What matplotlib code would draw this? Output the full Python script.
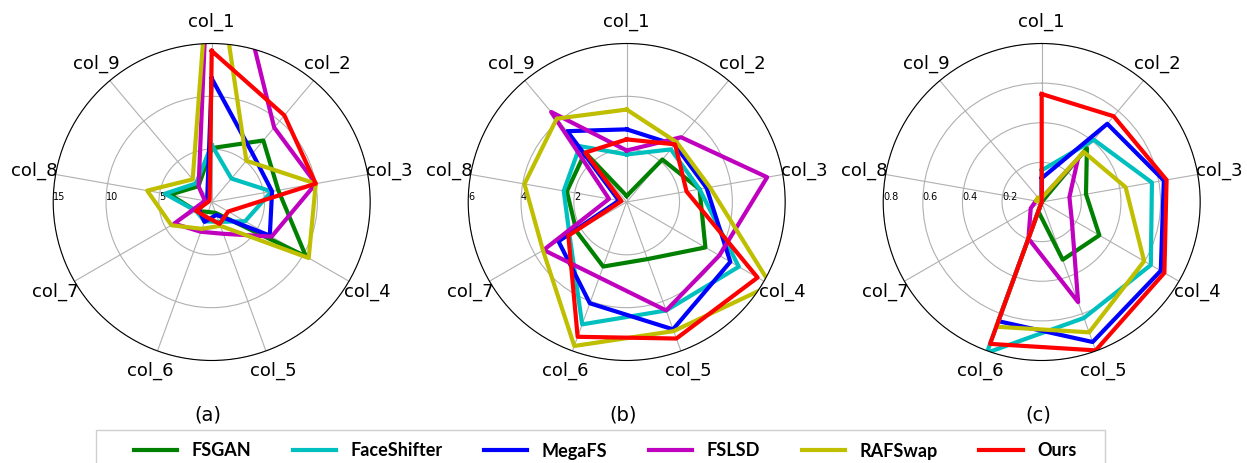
import numpy as np
import matplotlib
matplotlib.use("Agg")
import matplotlib.pyplot as plt
from matplotlib.patches import Rectangle

# ==============================
# DATOS
# ==============================

columnas = ["col_1", "col_2", "col_3", "col_4", "col_5", "col_6", "col_7", "col_8", "col_9"]
metodos = ["FSGAN", "FaceShifter", "MegaFS", "FSLSD", "RAFSwap", "Ours"]
colores = ["g", "c", "b", "m", "y", "r"]
paneles = ["(a)", "(b)", "(c)"]

# panel (a)
a_fsgan = [5.1, 7.6, 6.4, 10.3, 1.1, 1.0, 1.7, 4.0, 1.95]
a_faceshifter = [5.4, 2.9, 5.75, 3.65, 2.0, 1.95, 1.7, 4.5, 2.3]
a_megafs = [11.7, 6.0, 5.8, 6.35, 1.3, 2.0, 1.4, 0.6, 0.65]
a_fslsd = [31.0, 9.2, 10.0, 6.55, 3.2, 3.0, 4.1, 0.65, 1.93]
a_rafswap = [26.0, 5.1, 10.0, 10.6, 2.4, 2.7, 4.4, 6.2, 2.8]
a_ours = [14.3, 10.7, 10.0, 1.8, 2.2, 1.5, 1.7, 0.3, 0.3]

# panel (b)
b_fsgan = [0.23, 2.1, 2.8, 3.44, 2.3, 2.6, 2.2, 2.3, 2.45]
b_faceshifter = [1.8, 2.6, 2.8, 4.9, 4.37, 4.93, 2.5, 2.42, 2.76]
b_megafs = [2.75, 2.83, 3.07, 4.53, 5.13, 4.08, 2.98, 0.3, 3.5]
b_fslsd = [1.95, 3.2, 5.4, 4.05, 4.37, 3.04, 3.63, 0.68, 4.45]
b_rafswap = [3.5, 2.95, 3.2, 6.3, 5.2, 5.8, 3.66, 3.93, 4.12]
b_ours = [2.37, 2.85, 2.3, 5.72, 5.5, 5.43, 2.55, 0.2, 2.44]

# panel (c)
c_fsgan = [0.0, 0.355, 0.227, 0.336, 0.31, 0.05, 0.0, 0.0, 0.0]
c_faceshifter = [0.16, 0.41, 0.565, 0.636, 0.623, 0.81, 0.0, 0.0, 0.0]
c_megafs = [0.12, 0.515, 0.626, 0.694, 0.752, 0.64, 0.0, 0.0, 0.0]
c_fslsd = [0.02, 0.285, 0.142, 0.175, 0.538, 0.196, 0.064, 0.03, 0.02]
c_rafswap = [0.02, 0.33, 0.43, 0.597, 0.70, 0.67, 0.0, 0.03, 0.03]
c_ours = [0.545, 0.565, 0.64, 0.715, 0.797, 0.762, 0.0, 0.0, 0.0]

datos = [
    [a_fsgan, a_faceshifter, a_megafs, a_fslsd, a_rafswap, a_ours],
    [b_fsgan, b_faceshifter, b_megafs, b_fslsd, b_rafswap, b_ours],
    [c_fsgan, c_faceshifter, c_megafs, c_fslsd, c_rafswap, c_ours],
]
rmax = [15, 6, 0.8]
rticks = [[5, 10, 15], [2, 4, 6], [0.2, 0.4, 0.6, 0.8]]

# ==============================
# GRAFICA
# ==============================

W, H = 1247, 463
fig = plt.figure(figsize=(W / 100, H / 100), dpi=100)

centros_x = [211.7, 626.7, 1041.7]
cy = 202
R = 158.5

angulos = np.linspace(0, 2 * np.pi, len(columnas), endpoint=False)
angulos_c = np.concatenate([angulos, angulos[:1]])

handles = []
for i, serie in enumerate(datos):
    ax = fig.add_axes([(centros_x[i] - R) / W, (H - cy - R) / H, 2 * R / W, 2 * R / H],
                      projection="polar")
    ax.set_theta_offset(np.pi / 2)
    ax.set_theta_direction(-1)

    for vals, nombre, col in zip(serie, metodos, colores):
        v = np.concatenate([vals, vals[:1]])
        (ln,) = ax.plot(angulos_c, v, color=col, linewidth=3, label=nombre)
        if i == 0:
            handles.append(ln)

    ax.set_ylim(0, rmax[i])
    ax.set_yticks(rticks[i])
    ax.set_yticklabels([str(t) for t in rticks[i]], fontsize=7)
    ax.set_rlabel_position(270)
    ax.set_xticks(angulos)
    ax.set_xticklabels(columnas, fontsize=13)
    ax.tick_params(axis="x", pad=5)
    ax.grid(True, color="#b0b0b0", linewidth=0.8)

    fig.text(centros_x[i] / W - 0.003, 1 - 415 / H, paneles[i], ha="center", va="center",
             fontsize=14)

# leyenda con marco gris que se corta abajo
fig.add_artist(Rectangle((96 / W, -0.2), (1105 - 96) / W, 0.2 + 1 - 430 / H,
                         transform=fig.transFigure, fill=False,
                         edgecolor="#cfcfcf", linewidth=1))
fig.legend(handles, metodos, ncol=6, loc="center", bbox_to_anchor=(605 / W, 1 - 451 / H),
           frameon=False, prop={"family": "Lato", "weight": "bold", "size": 13},
           handlelength=2.4, handletextpad=0.8, columnspacing=2.3)

fig.savefig("out.png", dpi=100)
plt.close(fig)
